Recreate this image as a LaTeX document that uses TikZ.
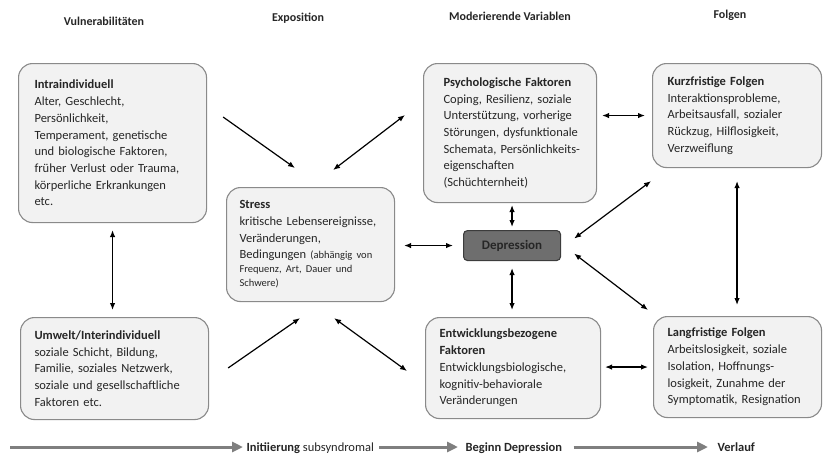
\documentclass[tikz,border=0pt]{standalone}
\usepackage{fontspec}
\setmainfont{Carlito}
\usepackage{tikz}
\usetikzlibrary{calc,positioning,arrows.meta,shapes}

\definecolor{boxfill}{HTML}{F2F2F2}
\definecolor{boxline}{HTML}{8A8A8A}
\definecolor{deprfill}{HTML}{6E6E6E}
\definecolor{deprline}{HTML}{3C3C3C}
\definecolor{pfeilgrau}{HTML}{7F7F7F}
\definecolor{schrift}{HTML}{262626}

\newcommand{\klein}{\fontsize{10.5pt}{14pt}\selectfont}

\begin{document}
\begin{tikzpicture}
[x=1pt,y=-1pt,font=\fontsize{12.5pt}{16.7pt}\selectfont,text=schrift]

    \tikzstyle{kasten}=[draw=boxline,fill=boxfill,line width=1.1pt,
                        rounded corners=14pt,anchor=north west,align=left,
                        inner ysep=4pt]
    \tikzstyle{kopf}=[font=\fontsize{12pt}{14pt}\selectfont\bfseries,anchor=base]
    \tikzstyle{pfeil}=[line width=1.2pt,black,{Latex[length=7pt,width=5.5pt]}-{Latex[length=7pt,width=5.5pt]}]
    \tikzstyle{einpfeil}=[line width=1.2pt,black,-{Latex[length=7pt,width=5.5pt]}]
    \tikzstyle{zeit}=[line width=3pt,pfeilgrau,-{Triangle[length=11pt,width=10pt]}]

    \useasboundingbox (0,0) rectangle (823,456);

    % Spaltenkoepfe
    \node[kopf] (vuln) at (104,25) {Vulnerabilitäten};
    \node[kopf] (expo) at (298,21) {Exposition};
    \node[kopf] (mod) at (510,20) {Moderierende Variablen};
    \node[kopf] (folg) at (730,18) {Folgen};

    % Kaesten
    \node[kasten,inner xsep=16pt,text width=156pt,minimum width=188pt,minimum height=159pt]
        (intra) at (18,63) {\textbf{Intraindividuell}\\ Alter, Geschlecht,\\ Persönlichkeit,\\
        Temperament, genetische\\ und biologische Faktoren,\\ früher Verlust oder Trauma,\\
        körperliche Erkrankungen\\ etc.};
    \node[kasten,inner xsep=14pt,text width=160pt,minimum width=188pt,minimum height=102pt]
        (umwelt) at (20,317) {\textbf{Umwelt/Interindividuell}\\ soziale Schicht, Bildung,\\
        Familie, soziales Netzwerk,\\ soziale und gesellschaftliche\\ Faktoren etc.};
    \node[kasten,inner xsep=13pt,text width=142pt,minimum width=168pt,minimum height=114pt]
        (stress) at (226,187) {\textbf{Stress}\\ \mbox{kritische Lebensereignisse,}\\ Veränderungen,\\
        Bedingungen {\klein(abhängig von}\\[-2.7pt] {\klein Frequenz, Art, Dauer und}\\[-2.7pt]
        {\klein Schwere)}};
    \node[kasten,inner xsep=20pt,text width=133pt,minimum width=173pt,minimum height=139pt]
        (psych) at (423,63) {\textbf{Psychologische Faktoren}\\ \mbox{Coping, Resilienz, soziale}\\
        \mbox{Unterstützung, vorherige}\\ \mbox{Störungen, dysfunktionale}\\
        \mbox{Schemata, Persönlichkeits-}\\ eigenschaften\\ (Schüchternheit)};
    \node[kasten,inner xsep=15pt,text width=139pt,minimum width=169pt,minimum height=104pt]
        (kurz) at (652,63) {\textbf{Kurzfristige Folgen}\\ Interaktionsprobleme,\\
        Arbeitsausfall, sozialer\\ Rückzug, Hilflosigkeit,\\ Verzweiflung};
    \node[kasten,inner xsep=14pt,text width=147pt,minimum width=175pt,minimum height=101pt]
        (entw) at (425,317) {\textbf{Entwicklungsbezogene}\\ \textbf{Faktoren}\\
        Entwicklungsbiologische,\\ kognitiv-behaviorale\\ Veränderungen};
    \node[kasten,inner xsep=14pt,text width=140pt,minimum width=168pt,minimum height=101pt]
        (lang) at (653,316) {\textbf{Langfristige Folgen}\\ \mbox{Arbeitslosigkeit, soziale}\\
        Isolation, Hoffnungs-\\ losigkeit, Zunahme der\\ \mbox{Symptomatik, Resignation}};
    \node[draw=deprline,fill=deprfill,line width=1.1pt,rounded corners=4pt,anchor=north west,
          minimum width=97pt,minimum height=30pt,font=\fontsize{13pt}{15pt}\selectfont\bfseries,
          text=black!85] (depr) at (463,230) {Depression};

    % senkrechte und waagrechte Pfeile
    \draw[pfeil,shorten <=7pt,shorten >=7pt] (intra.south) -- (intra.south |- umwelt.north);
    \draw[pfeil,shorten <=2pt,shorten >=3pt] (depr.north |- psych.south) -- (depr.north);
    \draw[pfeil,shorten <=7pt,shorten >=7pt] (depr.south) -- (depr.south |- entw.north);
    \draw[pfeil,shorten <=13pt,shorten >=11pt] (kurz.south) -- (kurz.south |- lang.north);
    \draw[pfeil,shorten <=5pt,shorten >=7pt] (psych.east |- kurz.west) -- (kurz.west);
    \draw[pfeil,shorten <=9pt,shorten >=10pt] (stress.east |- depr.west) -- (depr.west);
    \draw[pfeil,shorten <=4pt,shorten >=5pt] (entw.east |- lang.west) -- (lang.west);

    % schraege Pfeile
    \draw[einpfeil] ($(intra.north east)+(16,54)$) -- ($(stress.north west)+(69,-19)$);
    \draw[einpfeil] ($(umwelt.north east)+(19,51)$) -- ($(stress.south west)+(74,16)$);
    \draw[pfeil] ($(stress.north east)+(-62,-17)$) -- ($(psych.north west)+(-18,52)$);
    \draw[pfeil] ($(stress.south east)+(-61,16)$) -- ($(entw.north west)+(-18,54)$);
    \draw[pfeil] ($(kurz.south west)+(-1,13)$) -- ($(depr.east)+(13,-7)$);
    \draw[pfeil] ($(depr.east)+(13,8)$) -- ($(lang.north west)+(-5,-6)$);

    % Zeitachse unten
    \coordinate (start) at (10,447);
    \node[anchor=base west] (init) at (243,451) {\textbf{Initiierung} subsyndromal};
    \node[anchor=base west] (beginn) at (462,451) {\textbf{Beginn Depression}};
    \node[anchor=base west] (verlauf) at (714,451) {\textbf{Verlauf}};
    \draw[zeit] (start) -- (start -| init.west);
    \draw[zeit] ([xshift=2pt]init.east |- start) -- ([xshift=-4pt]beginn.west |- start);
    \draw[zeit] ([xshift=8pt]beginn.east |- start) -- ([xshift=-6pt]verlauf.west |- start);

\end{tikzpicture}
\end{document}
